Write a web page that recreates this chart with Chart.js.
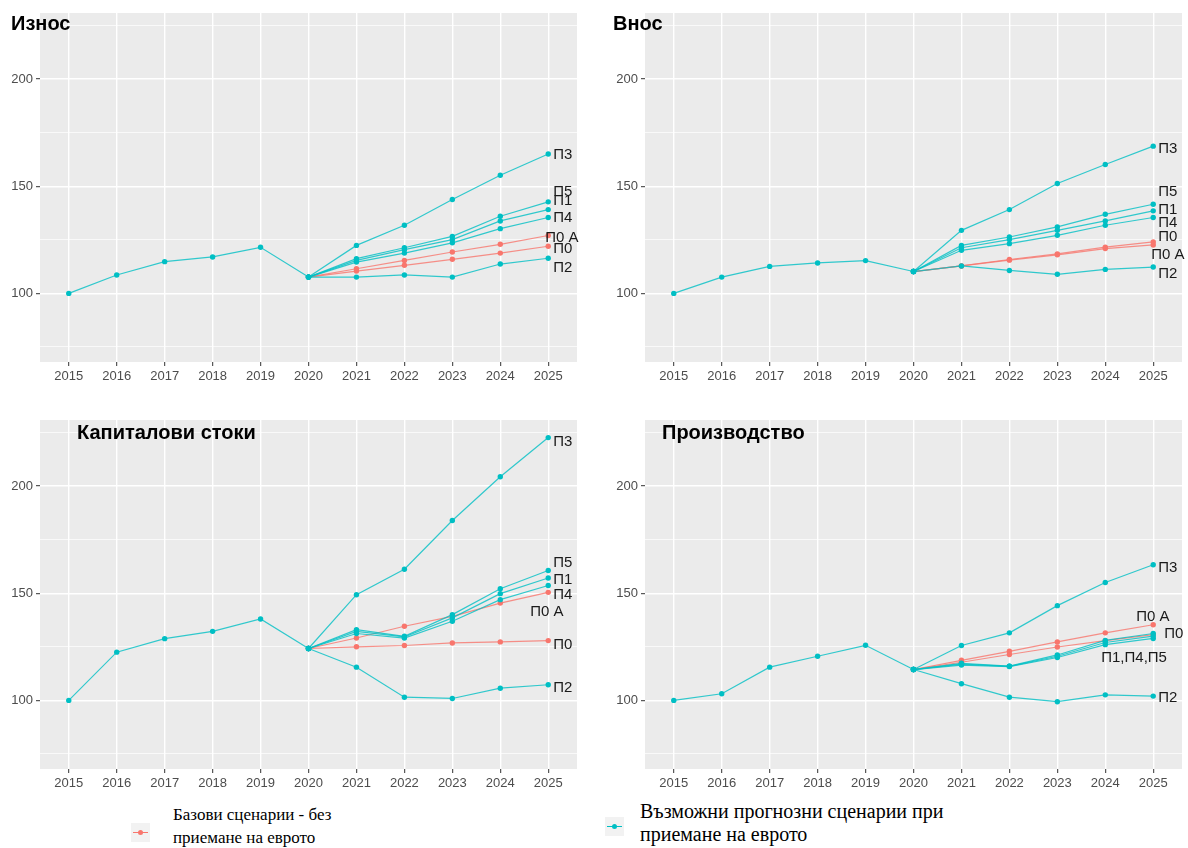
<!DOCTYPE html>
<html><head><meta charset="utf-8">
<script src="https://cdn.jsdelivr.net/npm/chart.js@4"></script>
<style>
body{margin:0;background:#fff;width:1188px;height:848px;position:relative;overflow:hidden;font-family:"Liberation Sans",Arial,sans-serif}
canvas{position:absolute}
.title{position:absolute;font-weight:bold;font-size:20px;color:#000;line-height:20px;white-space:nowrap}
.leg{position:absolute;font-family:"Liberation Serif","Times New Roman",serif;font-size:17px;line-height:23px;color:#000;white-space:nowrap}
.key{position:absolute;width:19px;height:19px;background:#f2f2f2}
.key i{position:absolute;left:2px;right:2px;top:9px;height:1px}
.key b{position:absolute;left:7px;top:7px;width:5px;height:5px;border-radius:50%}
</style></head><body>
<canvas id="c1" width="600" height="400" style="left:0;top:0"></canvas>
<canvas id="c2" width="588" height="400" style="left:600px;top:0"></canvas>
<canvas id="c3" width="600" height="400" style="left:0;top:400px"></canvas>
<canvas id="c4" width="588" height="400" style="left:600px;top:400px"></canvas>
<div class="title" style="left:11px;top:13px">Износ</div>
<div class="title" style="left:613px;top:13px">Внос</div>
<div class="title" style="left:77px;top:422px">Капиталови стоки</div>
<div class="title" style="left:662px;top:422px">Производство</div>
<div class="key" style="left:131px;top:823px"><i style="background:#F8766D"></i><b style="background:#F8766D"></b></div>
<div class="leg" style="left:173px;top:803px">Базови сценарии - без<br>приемане на еврото</div>
<div class="key" style="left:605px;top:817px"><i style="background:#00BFC4"></i><b style="background:#00BFC4"></b></div>
<div class="leg" style="left:640px;top:800px;font-size:20px;line-height:23px">Възможни прогнозни сценарии при<br>приемане на еврото</div>
<script>
// ---- data ----
const histYears = [2015, 2016, 2017, 2018, 2019, 2020];
const scenYears = [2020, 2021, 2022, 2023, 2024, 2025];
const xTicks = [2015, 2016, 2017, 2018, 2019, 2020, 2021, 2022, 2023, 2024, 2025];
const yTicks = [75, 100, 125, 150, 175, 200, 225];
const yLabelled = [100, 150, 200];

// Износ
const expHist = [100, 108.6, 114.8, 117.0, 121.5, 107.6];
const expP0  = [107.6, 110.4, 113.1, 115.9, 118.8, 122.0];
const expP0A = [107.6, 111.5, 115.4, 119.3, 122.9, 127.0];
const expP1  = [107.6, 115.4, 120.4, 125.1, 133.8, 139.1];
const expP2  = [107.6, 107.6, 108.6, 107.6, 113.7, 116.4];
const expP3  = [107.6, 122.4, 131.8, 143.8, 155.1, 165.0];
const expP4  = [107.6, 114.6, 118.8, 123.6, 130.2, 135.4];
const expP5  = [107.6, 116.2, 121.3, 126.6, 136.0, 142.7];
const expLabels = [["П3",164.5,5],["П5",147.3,5],["П1",143.1,5],["П4",135.4,5],["П0 А",126.0,-3],["П0",120.9,5],["П2",112.0,5]];

// Внос
const impHist = [100, 107.6, 112.6, 114.2, 115.3, 110.2];
const impP0  = [110.2, 112.8, 115.8, 118.4, 121.6, 124.0];
const impP0A = [110.2, 112.8, 115.5, 118.0, 120.9, 122.6];
const impP1  = [110.2, 121.3, 125.1, 129.4, 133.8, 138.5];
const impP2  = [110.2, 112.8, 110.7, 108.9, 111.2, 112.3];
const impP3  = [110.2, 129.4, 139.1, 151.3, 160.1, 168.7];
const impP4  = [110.2, 120.1, 123.2, 127.1, 131.8, 135.4];
const impP5  = [110.2, 122.4, 126.3, 131.0, 136.9, 141.6];
const impLabels = [["П3",167.6,5],["П5",147.3,5],["П1",139.1,5],["П4",132.9,5],["П0",126.6,5],["П0 А",117.8,-2],["П2",109.2,5]];

// Капиталови стоки
const capHist = [100, 122.5, 128.8, 132.2, 138.0, 124.2];
const capP0  = [124.2, 125.0, 125.6, 126.8, 127.3, 127.9];
const capP0A = [124.2, 129.1, 134.6, 139.2, 145.4, 150.4];
const capP1  = [124.2, 132.2, 129.6, 138.5, 149.8, 157.1];
const capP2  = [124.2, 115.5, 101.5, 100.9, 105.7, 107.3];
const capP3  = [124.2, 149.3, 161.2, 183.9, 204.3, 222.6];
const capP4  = [124.2, 131.2, 129.1, 136.9, 147.0, 153.6];
const capP5  = [124.2, 133.0, 129.9, 140.0, 152.1, 160.6];
const capLabels = [["П3",220.6,5],["П5",164.3,5],["П1",156.3,5],["П4",149.3,5],["П0 А",141.1,-18],["П0",126.0,5],["П2",105.9,5]];

// Производство
const prdHist = [100, 103.1, 115.5, 120.6, 125.7, 114.4];
const prdP0  = [114.4, 117.8, 121.4, 124.9, 127.9, 130.7];
const prdP0A = [114.4, 118.7, 122.9, 127.3, 131.5, 135.3];
const prdP1  = [114.4, 116.9, 115.9, 120.6, 127.0, 130.0];
const prdP2  = [114.4, 107.8, 101.5, 99.4, 102.6, 102.0];
const prdP3  = [114.4, 125.6, 131.5, 144.2, 155.0, 163.3];
const prdP4  = [114.4, 116.5, 115.8, 120.0, 126.0, 128.9];
const prdP5  = [114.4, 117.3, 116.0, 121.2, 128.0, 131.2];
const prdLabels = [["П3",162.0,5],["П0 А",138.9,-17],["П0",131.0,11],["П1,П4,П5",119.9,-52],["П2",101.3,5]];

// ---- rendering ----
const RED = '#F8766D', TEAL = '#00BFC4';
const toXY = (xs, ys) => xs.map((x, i) => ({x, y: ys[i]}));

const bgPlugin = {
  id: 'panelBg',
  beforeDraw(chart) {
    const a = chart.chartArea, ctx = chart.ctx;
    ctx.save(); ctx.fillStyle = '#EBEBEB';
    ctx.fillRect(a.left, a.top, a.right - a.left, a.bottom - a.top);
    ctx.restore();
  }
};
const endLabelPlugin = {
  id: 'endLabels',
  afterDatasetsDraw(chart, args, opts) {
    const ctx = chart.ctx, xs = chart.scales.x, ys = chart.scales.y;
    const last = xTicks[xTicks.length - 1];
    ctx.save();
    ctx.font = '15px "Liberation Sans", Arial, sans-serif';
    ctx.fillStyle = '#1a1a1a'; ctx.textAlign = 'left'; ctx.textBaseline = 'middle';
    (opts.items || []).forEach(it => ctx.fillText(it[0], xs.getPixelForValue(last) + it[2], ys.getPixelForValue(it[1])));
    ctx.restore();
  }
};

function lineDs(data, color, order) {
  return {data, borderColor: color + 'CC', backgroundColor: color, pointBackgroundColor: color,
    pointBorderWidth: 0, pointRadius: 2.7, borderWidth: 1.2, tension: 0, order};
}

function makePanel(id, area, hist, reds, teals, labels) {
  const cv = document.getElementById(id);
  const W = cv.width, H = cv.height;
  const datasets = [];
  datasets.push(lineDs(toXY(histYears, hist), TEAL, 0));
  teals.forEach(t => datasets.push(lineDs(toXY(scenYears, t), TEAL, 1)));
  reds.forEach(r => datasets.push(lineDs(toXY(scenYears, r), RED, 2)));
  new Chart(cv, {
    type: 'line',
    data: {datasets},
    options: {
      responsive: false, animation: false, devicePixelRatio: 1,
      layout: {padding: {left: 0, top: area.top, right: W - area.right, bottom: 0}},
      plugins: {legend: {display: false}, tooltip: {enabled: false}, endLabels: {items: labels}},
      scales: {
        x: {
          type: 'linear', min: 2014.4, max: 2025.6,
          afterBuildTicks: s => { s.ticks = xTicks.map(v => ({value: v})); },
          afterFit: s => { s.height = H - area.bottom; },
          border: {display: false},
          grid: {color: '#FFFFFF', lineWidth: 1.4, tickColor: '#333333', tickLength: 4, tickWidth: 1},
          ticks: {autoSkip: false, maxRotation: 0, padding: 3, color: '#4D4D4D',
            font: {family: '"Liberation Sans", Arial, sans-serif', size: 13},
            callback: v => String(v)}
        },
        y: {
          type: 'linear', min: 68, max: 230.8,
          afterBuildTicks: s => { s.ticks = yTicks.map(v => ({value: v})); },
          afterFit: s => { s.width = area.left; },
          border: {display: false},
          grid: {color: '#FFFFFF',
            lineWidth: c => yLabelled.includes(c.tick && c.tick.value) ? 1.4 : 0.7,
            tickColor: c => yLabelled.includes(c.tick && c.tick.value) ? '#333333' : 'rgba(0,0,0,0)',
            tickLength: 4, tickWidth: 1},
          ticks: {padding: 3, color: '#4D4D4D',
            font: {family: '"Liberation Sans", Arial, sans-serif', size: 13},
            callback: v => yLabelled.includes(v) ? String(v) : ''}
        }
      }
    },
    plugins: [bgPlugin, endLabelPlugin]
  });
}

makePanel('c1', {left: 40, right: 577, top: 13, bottom: 362}, expHist,
  [expP0, expP0A], [expP1, expP2, expP3, expP4, expP5], expLabels);
makePanel('c2', {left: 45, right: 582, top: 13, bottom: 362}, impHist,
  [impP0, impP0A], [impP1, impP2, impP3, impP4, impP5], impLabels);
makePanel('c3', {left: 40, right: 577, top: 20, bottom: 369}, capHist,
  [capP0, capP0A], [capP1, capP2, capP3, capP4, capP5], capLabels);
makePanel('c4', {left: 45, right: 582, top: 20, bottom: 369}, prdHist,
  [prdP0, prdP0A], [prdP1, prdP2, prdP3, prdP4, prdP5], prdLabels);
</script>
</body></html>
